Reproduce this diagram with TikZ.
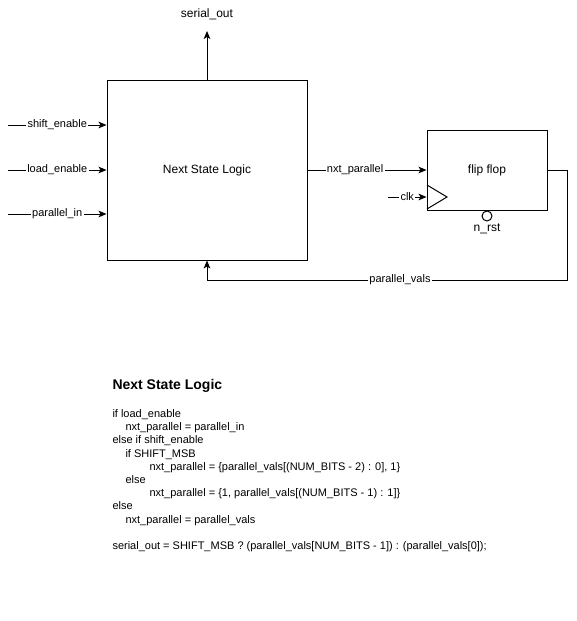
\documentclass[tikz,border=0pt]{standalone}
\usepackage{fontspec}
\setmainfont{Liberation Sans}
\usetikzlibrary{arrows.meta}
\tikzset{>={Stealth[length=6pt,width=5pt,inset=1.5pt]}}
\tikzset{
	block/.style={draw, line width=0.75pt, inner sep=0pt, font=\fontsize{9pt}{10.8pt}\selectfont},
	elbl/.style={fill=white, inner sep=1pt, font=\fontsize{8.25pt}{9.9pt}\selectfont},
	txt/.style={inner sep=0pt, font=\fontsize{9pt}{10.8pt}\selectfont},
	code/.style={inner sep=0pt, align=left, font=\fontsize{8.25pt}{9.9pt}\selectfont}
}

\begin{document}
\begin{tikzpicture}[x=0.75pt, y=-0.75pt, line width=0.75pt]
	\useasboundingbox (0,0) rectangle (576,621);

	% Blocchi
	\node[block, minimum width=150pt, minimum height=135pt] (nsl) at (207,170) {Next State Logic};
	\node[block, minimum width=90pt, minimum height=60pt] (ff) at (487,170) {flip flop};

	% Clock e reset
	\draw (427,185) -- (447,197) -- (427,209);
	\node[draw, circle, minimum size=7.5pt, inner sep=0pt] (rst) at (487,216) {};
	\node[txt] (rstlbl) at (487,229) {n\_rst};

	% Ingressi
	\coordinate (in1) at (8,125);
	\coordinate (in2) at (8,170);
	\coordinate (in3) at (8,214);
	\coordinate (clkin) at (388,197);
	\draw[->] (in1) -- node[elbl] {shift\_enable} (nsl.west |- in1);
	\draw[->] (in2) -- node[elbl] {load\_enable} (nsl.west |- in2);
	\draw[->] (in3) -- node[elbl] {parallel\_in} (nsl.west |- in3);
	\draw[->] (clkin) -- node[elbl] {clk} (ff.west |- clkin);

	% Uscite
	\coordinate (sotip) at (207,31);
	\node[txt] (so) at (207,14) {serial\_out};
	\draw[->] (nsl.north) -- (sotip);
	\draw[->] (nsl.east) -- node[elbl, pos=0.4] {nxt\_parallel} (ff.west);

	% Retroazione
	\coordinate (fb) at (567,280);
	\draw[->] (ff.east) -| (fb) -- node[elbl, pos=0.464] {parallel\_vals} (nsl.south |- fb) -- (nsl.south);

	% Descrizione
	\node[inner sep=0pt, anchor=base west, font=\bfseries\fontsize{10.5pt}{12.6pt}\selectfont] (title) at (112,389) {Next State Logic};
	\node[code, anchor=north west] (desc) at (112,409) {if load\_enable\\
		\hspace*{9.75pt}nxt\_parallel = parallel\_in\\
		else if shift\_enable\\
		\hspace*{9.75pt}if SHIFT\_MSB\\
		\hspace*{27.75pt}nxt\_parallel = \{parallel\_vals[(NUM\_BITS - 2) : 0], 1\}\\
		\hspace*{9.75pt}else\\
		\hspace*{27.75pt}nxt\_parallel = \{1, parallel\_vals[(NUM\_BITS - 1) : 1]\}\\
		else\\
		\hspace*{9.75pt}nxt\_parallel = parallel\_vals\\[9.9pt]
		serial\_out = SHIFT\_MSB ? (parallel\_vals[NUM\_BITS - 1]) : (parallel\_vals[0]);};
\end{tikzpicture}
\end{document}
